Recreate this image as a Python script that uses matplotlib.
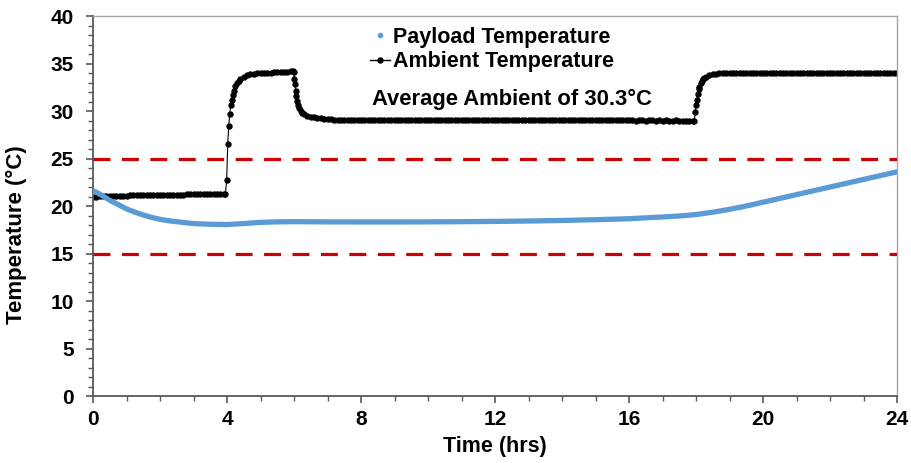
import matplotlib.pyplot as plt
from matplotlib.lines import Line2D
from matplotlib.ticker import MultipleLocator

# payload temperature (deg C) vs time (hrs)
payload_hours = [0.0, 0.1, 0.25, 0.5, 0.75, 1.0, 1.25, 1.5, 1.75, 2.0, 2.25, 2.5, 2.75, 3.0,
                 3.5, 4.0, 4.5, 5.0, 5.5, 6.0, 7.0, 8.0, 9.0, 10.0, 11.0, 12.0, 13.0, 14.0,
                 15.0, 16.0, 17.0, 17.5, 18.0, 18.5, 19.0, 19.5, 20.0, 20.5, 21.0, 21.5,
                 22.0, 22.5, 23.0, 23.5, 24.0]
payload_temp = [21.6, 21.45, 21.15, 20.6, 20.15, 19.7, 19.35, 19.05, 18.8, 18.6, 18.45, 18.35, 18.25, 18.15,
                18.08, 18.05, 18.15, 18.28, 18.33, 18.35, 18.33, 18.32, 18.32, 18.33, 18.35, 18.38, 18.42, 18.48,
                18.56, 18.66, 18.85, 18.95, 19.1, 19.35, 19.65, 20.0, 20.4, 20.8, 21.2, 21.6,
                22.0, 22.4, 22.8, 23.2, 23.6]

# ambient temperature, logger samples
amb_hours_1 = [0.0, 0.1, 0.2, 0.3, 0.4, 0.5, 0.6, 0.7, 0.8, 0.9,
               1.0, 1.1, 1.2, 1.3, 1.4, 1.5, 1.6, 1.7, 1.8, 1.9,
               2.0, 2.1, 2.2, 2.3, 2.4, 2.5, 2.6, 2.7, 2.8, 2.9,
               3.0, 3.1, 3.2, 3.3, 3.4, 3.5, 3.6, 3.7, 3.8, 3.9]
amb_temp_1 = [20.9, 21.0, 21.05, 21.1, 21.1, 21.1, 21.1, 21.1, 21.1, 21.1,
              21.1, 21.15, 21.15, 21.15, 21.15, 21.15, 21.15, 21.15, 21.2, 21.2,
              21.2, 21.2, 21.2, 21.2, 21.2, 21.2, 21.2, 21.2, 21.25, 21.25,
              21.25, 21.25, 21.25, 21.25, 21.25, 21.3, 21.3, 21.3, 21.3, 21.3]

amb_hours_2 = [3.95, 3.99, 4.02, 4.05, 4.08, 4.11, 4.14, 4.17, 4.2, 4.25, 4.3, 4.35, 4.4, 4.5,
               4.6, 4.7, 4.8, 4.9, 5.0, 5.1, 5.2, 5.3, 5.4, 5.5, 5.6, 5.7, 5.8, 5.9, 5.96]
amb_temp_2 = [21.3, 22.7, 26.5, 28.4, 29.7, 30.6, 31.2, 31.7, 32.1, 32.6, 33.0, 33.2, 33.35, 33.6,
              33.75, 33.85, 33.9, 33.95, 34.0, 34.0, 34.05, 34.05, 34.1, 34.1, 34.1, 34.15, 34.15, 34.2, 34.2]

amb_hours_3 = [5.99, 6.01, 6.03, 6.05, 6.07, 6.09, 6.12, 6.15, 6.2, 6.25, 6.3, 6.4, 6.5, 6.6,
               6.7, 6.8, 6.9, 7.0]
amb_temp_3 = [34.1, 33.35, 32.8, 32.1, 31.6, 31.1, 30.6, 30.35, 30.0, 29.8, 29.65, 29.5, 29.4, 29.35,
              29.3, 29.25, 29.2, 29.15]

amb_hours_4 = [7.1, 7.2, 7.3, 7.4, 7.5, 7.6, 7.7, 7.8, 7.9,
               8.0, 8.1, 8.2, 8.3, 8.4, 8.5, 8.6, 8.7, 8.8, 8.9,
               9.0, 9.1, 9.2, 9.3, 9.4, 9.5, 9.6, 9.7, 9.8, 9.9,
               10.0, 10.1, 10.2, 10.3, 10.4, 10.5, 10.6, 10.7, 10.8, 10.9,
               11.0, 11.1, 11.2, 11.3, 11.4, 11.5, 11.6, 11.7, 11.8, 11.9,
               12.0, 12.1, 12.2, 12.3, 12.4, 12.5, 12.6, 12.7, 12.8, 12.9,
               13.0, 13.1, 13.2, 13.3, 13.4, 13.5, 13.6, 13.7, 13.8, 13.9,
               14.0, 14.1, 14.2, 14.3, 14.4, 14.5, 14.6, 14.7, 14.8, 14.9,
               15.0, 15.1, 15.2, 15.3, 15.4, 15.5, 15.6, 15.7, 15.8, 15.9,
               16.0, 16.1, 16.2, 16.3, 16.4, 16.5, 16.6, 16.7, 16.8, 16.9,
               17.0, 17.1, 17.2, 17.3, 17.4, 17.5, 17.6, 17.7, 17.8, 17.9]
amb_temp_4 = [29.15, 29.1, 29.1, 29.1, 29.1, 29.1, 29.1, 29.1, 29.1,
              29.1, 29.1, 29.1, 29.1, 29.1, 29.1, 29.1, 29.1, 29.1, 29.1,
              29.1, 29.1, 29.1, 29.1, 29.1, 29.1, 29.1, 29.1, 29.1, 29.1,
              29.1, 29.1, 29.1, 29.05, 29.1, 29.1, 29.1, 29.05, 29.1, 29.1,
              29.1, 29.1, 29.05, 29.1, 29.1, 29.1, 29.05, 29.1, 29.1, 29.1,
              29.1, 29.05, 29.1, 29.1, 29.05, 29.1, 29.1, 29.1, 29.05, 29.1,
              29.1, 29.05, 29.1, 29.05, 29.1, 29.1, 29.05, 29.1, 29.05, 29.1,
              29.05, 29.1, 29.05, 29.05, 29.1, 29.05, 29.05, 29.1, 29.05, 29.05,
              29.05, 29.05, 29.1, 29.05, 29.05, 29.05, 29.05, 29.05, 29.05, 29.05,
              29.05, 29.05, 29.0, 29.05, 29.05, 29.0, 29.05, 29.05, 29.0, 29.05,
              29.0, 29.05, 29.0, 29.0, 29.05, 29.0, 29.0, 29.0, 29.0, 29.0]

amb_hours_5 = [17.95, 17.98, 18.0, 18.02, 18.05, 18.08, 18.1, 18.14, 18.17, 18.2, 18.25, 18.3,
               18.4, 18.5, 18.6, 18.7, 18.8, 18.9]
amb_temp_5 = [29.0, 29.9, 30.6, 31.2, 31.8, 32.3, 32.5, 32.9, 33.2, 33.35, 33.5, 33.6,
              33.75, 33.85, 33.9, 33.95, 34.0, 34.0]

amb_hours_6 = [19.0, 19.1, 19.2, 19.3, 19.4, 19.5, 19.6, 19.7, 19.8, 19.9,
               20.0, 20.1, 20.2, 20.3, 20.4, 20.5, 20.6, 20.7, 20.8, 20.9,
               21.0, 21.1, 21.2, 21.3, 21.4, 21.5, 21.6, 21.7, 21.8, 21.9,
               22.0, 22.1, 22.2, 22.3, 22.4, 22.5, 22.6, 22.7, 22.8, 22.9,
               23.0, 23.1, 23.2, 23.3, 23.4, 23.5, 23.6, 23.7, 23.8, 23.9, 24.0]
amb_temp_6 = [34.0, 34.0, 34.0, 34.0, 34.0, 34.0, 34.0, 34.0, 34.0, 34.0,
              34.0, 34.0, 34.0, 34.0, 34.0, 34.0, 34.0, 34.0, 34.0, 34.0,
              34.0, 34.0, 34.0, 34.0, 34.0, 34.0, 34.0, 34.0, 34.0, 34.0,
              34.0, 34.0, 34.0, 34.0, 34.0, 34.0, 34.0, 34.0, 34.0, 34.0,
              34.0, 34.0, 34.0, 34.0, 34.0, 34.0, 34.0, 34.0, 34.0, 34.0, 34.0]

amb_hours = amb_hours_1 + amb_hours_2 + amb_hours_3 + amb_hours_4 + amb_hours_5 + amb_hours_6
amb_temp = amb_temp_1 + amb_temp_2 + amb_temp_3 + amb_temp_4 + amb_temp_5 + amb_temp_6

limits = [15, 25]  # allowed band
x_ticks = [0, 4, 8, 12, 16, 20, 24]
y_ticks = [0, 5, 10, 15, 20, 25, 30, 35, 40]

plt.rcParams['font.family'] = 'Liberation Sans'
plt.rcParams['font.weight'] = 'bold'

blue = '#5B9BD5'
red = '#CC0000'
axcol = '#595959'

fig = plt.figure(figsize=(9.12, 4.63), dpi=100)
ax = fig.add_axes([0.102, 0.1447, 0.8816, 0.8207])

ax.plot(amb_hours, amb_temp, color='black', lw=0.8, marker='o', ms=4.6,
        markeredgewidth=0, zorder=2)
for lim in limits:
    ax.axhline(lim, color=red, lw=2.3, dashes=(5.3, 3.6), zorder=3)
ax.plot(payload_hours, payload_temp, color=blue, lw=3.8, solid_capstyle='round', zorder=4)

ax.set_xlim(0, 24)
ax.set_ylim(0, 40)
ax.set_xticks(x_ticks)
ax.set_yticks(y_ticks)
ax.xaxis.set_minor_locator(MultipleLocator(1))
ax.yaxis.set_minor_locator(MultipleLocator(1))
ax.tick_params(which='major', direction='out', length=5, width=1.2, color=axcol,
               labelsize=15, pad=5)
ax.tick_params(axis='y', which='major', pad=9)
ax.tick_params(which='minor', direction='out', length=3.5, width=1.0, color=axcol)

for side in ['left', 'bottom']:
    ax.spines[side].set_color(axcol)
    ax.spines[side].set_linewidth(1.3)
for side in ['top', 'right']:
    ax.spines[side].set_color('#A6A6A6')
    ax.spines[side].set_linewidth(1.0)

ax.set_xlabel('Time (hrs)', fontsize=15.5, fontweight='bold', va='center')
ax.xaxis.set_label_coords(0.5, -0.1316)
ax.set_ylabel('Temperature (°C)', fontsize=16, fontweight='bold', va='center')
ax.yaxis.set_label_coords(-0.0955, 0.426)

handles = [Line2D([], [], color=blue, marker='o', ms=3, ls='none'),
           Line2D([], [], color='black', marker='o', ms=3.6, lw=1)]
labels = ['Payload Temperature', 'Ambient Temperature']
fig.legend(handles, labels, loc='upper left', bbox_to_anchor=(370 / 912, 1 - 27 / 463),
           frameon=False, handlelength=0.95, handletextpad=0.1,
           borderpad=0, borderaxespad=0, labelspacing=0.15,
           prop={'weight': 'bold', 'size': 15.5})

ax.text(12.5, 31.2, 'Average Ambient of 30.3°C', ha='center', va='center',
        fontsize=15.8, fontweight='bold')

fig.savefig('out.png', dpi=100)
